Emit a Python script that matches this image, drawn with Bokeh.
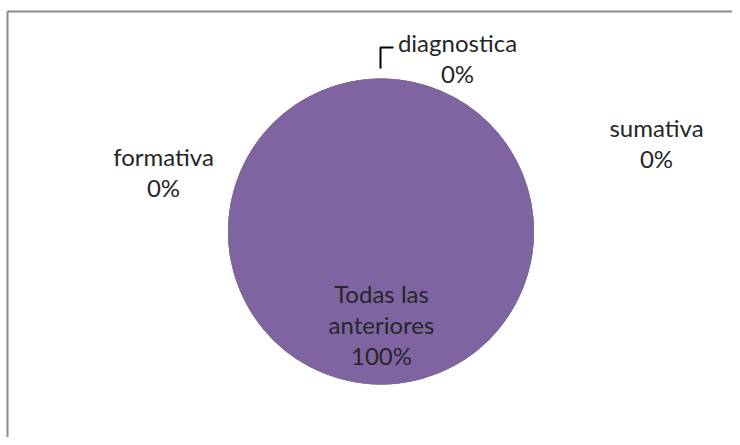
import math
from bokeh.plotting import figure
from bokeh.models import Range1d, ColumnDataSource
from bokeh.core.properties import value
from bokeh.embed import file_html
from bokeh.resources import INLINE

categories = ["diagnostica", "formativa", "sumativa", "Todas las anteriores"]
values = [0, 0, 0, 100]
colors = ["#4F81BD", "#C0504D", "#9BBB59", "#8064A2"]

W, H = 732, 437
p = figure(width=W, height=H, output_backend="svg", toolbar_location=None,
           x_range=Range1d(0, W), y_range=Range1d(0, H),
           min_border=0, outline_line_color=None)
p.axis.visible = False
p.grid.visible = False
p.background_fill_color = "white"
p.border_fill_color = "white"

def Y(ypix):
    return H - ypix

# pie geometry (image px)
cx, cy, r = 380.5, Y(231), 153

total = sum(values)
starts, ends = [], []
acc = 0.0
for v in values:
    a0 = math.pi / 2 - 2 * math.pi * acc / total
    acc += v
    a1 = math.pi / 2 - 2 * math.pi * acc / total
    if v == total:
        a1 = a0 - 2 * math.pi * 0.99999
    starts.append(a0)
    ends.append(a1)

src = ColumnDataSource(dict(cat=categories, val=values, start=starts, end=ends, color=colors))
p.wedge(x=cx, y=cy, radius=r, start_angle="start", end_angle="end", direction="clock",
        fill_color="color", line_color=None, source=src)

# chart border (left & top visible)
p.segment(x0=[7, 7], y0=[Y(11), Y(11)], x1=[7, W + 10], y1=[Y(H + 10), Y(11)],
          line_color="#8c8c8c", line_width=2)

# leader line for diagnostica
p.line([380, 380, 393], [Y(68), Y(47), Y(47)], line_color="#000000", line_width=2)

pcts = ["%d%%" % round(100 * v / total) for v in values]
label_pos = {
    "diagnostica": (457, 42),
    "formativa": (163, 156),
    "sumativa": (656, 127),
    "Todas las anteriores": (381, 293),
}
line_gap = 31
tx, ty, tt = [], [], []
for cat, pct in zip(categories, pcts):
    x0, y0 = label_pos[cat]
    lines = ["Todas las", "anteriores"] if cat == "Todas las anteriores" else [cat]
    lines = lines + [pct]
    for i, s in enumerate(lines):
        tx.append(x0)
        ty.append(Y(y0 + i * line_gap))
        tt.append(s)

p.text(x=tx, y=ty, text=tt, text_align="center", text_baseline="middle",
       text_font=value("Lato"), text_font_size="24px", text_color="#262626")

open("out.html", "w").write(file_html(p, INLINE))
